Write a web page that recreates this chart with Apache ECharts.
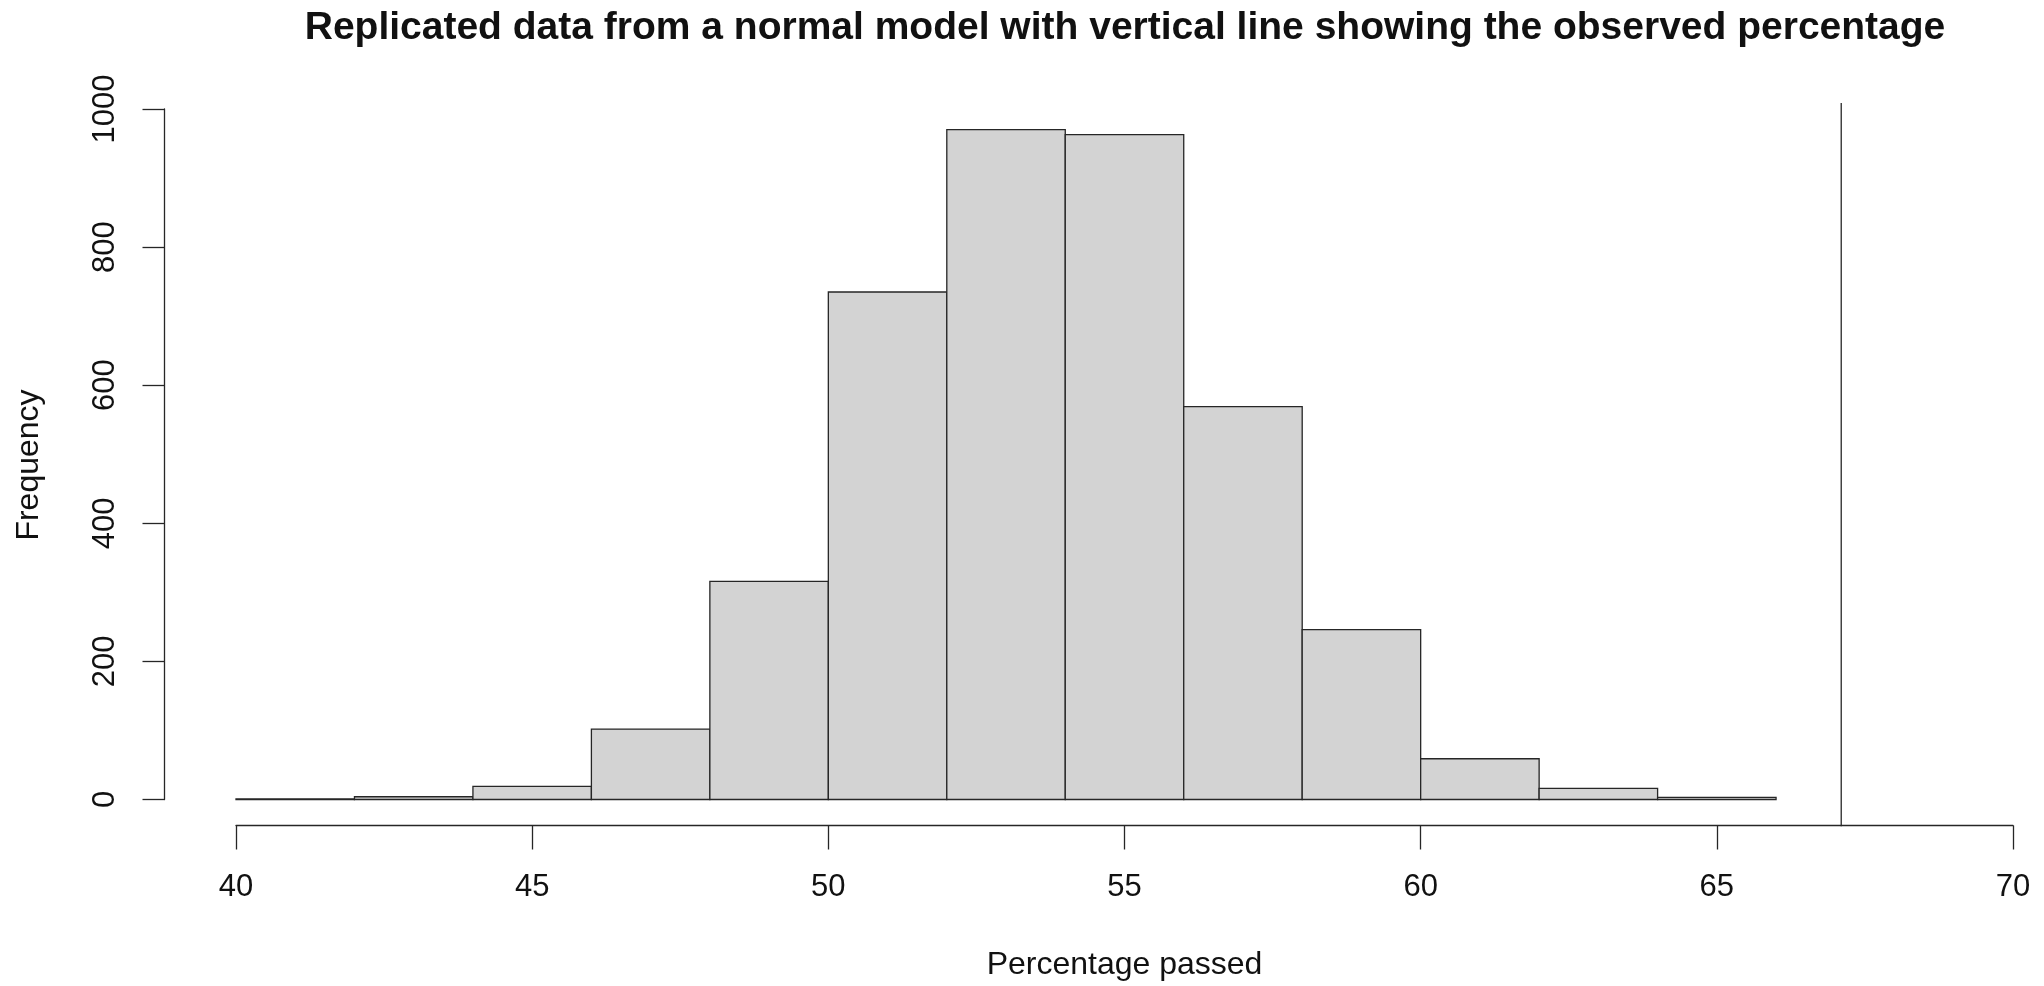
<!DOCTYPE html>
<html>
<head>
<meta charset="utf-8">
<title>Replicated data histogram</title>
<script src="https://cdn.jsdelivr.net/npm/echarts@6/dist/echarts.min.js"></script>
<style>
	html,body{margin:0;padding:0;background:#fff;}
	#chart{width:2044px;height:986px;}
</style>
</head>
<body>
<div id="chart"></div>
<script>
	// histogram bins (percentage passed) and counts
	var binStart = [40, 42, 44, 46, 48, 50, 52, 54, 56, 58, 60, 62, 64];
	var binEnd = [42, 44, 46, 48, 50, 52, 54, 56, 58, 60, 62, 64, 66];
	var counts = [1, 4, 19, 102, 316, 735, 970, 963, 569, 246, 59, 16, 3];
	// observed percentage, drawn as vertical line over the whole plot height
	var observed = 67.1;
	var observedSpan = [-38.8, 1008.8];
	var xTicks = [40, 45, 50, 55, 60, 65, 70];
	var yTicks = [0, 200, 400, 600, 800, 1000];

	var histData = [];
	for(var i = 0; i < counts.length; i++){
		histData.push([binStart[i], binEnd[i], counts[i]]);
	}

	var font = 'Liberation Sans, Arial, Helvetica, sans-serif';
	var ink = '#262626';
	var chart = echarts.init(document.getElementById('chart'));
	chart.setOption({
		animation: false,
		backgroundColor: '#ffffff',
		graphic: [{
			type: 'text',
			x: 1125,
			y: 28,
			style: {
				text: 'Replicated data from a normal model with vertical line showing the observed percentage',
				font: 'bold 39px ' + font,
				fill: '#111',
				textAlign: 'center',
				textVerticalAlign: 'middle'
			}
		}, {
			// y label centred on the whole plot region, like R does
			type: 'text',
			x: 29,
			y: 465,
			rotation: Math.PI / 2,
			style: {
				text: 'Frequency',
				font: '32px ' + font,
				fill: '#111',
				textAlign: 'center',
				textVerticalAlign: 'middle'
			}
		}],
		grid: {
			left: 236,
			right: 31,
			top: 109,
			bottom: 186.5,
			outerBoundsMode: 'none'
		},
		xAxis: {
			type: 'value',
			min: xTicks[0],
			max: xTicks[xTicks.length - 1],
			interval: 5,
			offset: 26,
			name: 'Percentage passed',
			nameLocation: 'middle',
			nameGap: 124,
			nameTextStyle: {fontSize: 32, fontFamily: font, color: '#111'},
			splitLine: {show: false},
			axisLine: {show: true, onZero: false, lineStyle: {color: ink, width: 1.3}},
			axisTick: {show: true, length: 24, lineStyle: {color: ink, width: 1.3}},
			axisLabel: {fontSize: 31, fontFamily: font, color: '#111', margin: 46}
		},
		yAxis: {
			type: 'value',
			min: yTicks[0],
			max: yTicks[yTicks.length - 1],
			interval: 200,
			offset: 71.5,
			splitLine: {show: false},
			axisLine: {show: true, onZero: false, lineStyle: {color: ink, width: 1.3}},
			axisTick: {show: true, length: 22, lineStyle: {color: ink, width: 1.3}},
			axisLabel: {
				fontSize: 31, fontFamily: font, color: '#111', rotate: 90, margin: 44,
				formatter: function(v){ return String(v); }
			}
		},
		series: [{
			type: 'custom',
			data: histData,
			encode: {x: [0, 1], y: 2},
			renderItem: function(params, api){
				var topLeft = api.coord([api.value(0), api.value(2)]);
				var bottomRight = api.coord([api.value(1), 0]);
				return {
					type: 'rect',
					shape: {
						x: topLeft[0],
						y: topLeft[1],
						width: bottomRight[0] - topLeft[0],
						height: bottomRight[1] - topLeft[1]
					},
					style: {fill: '#d3d3d3', stroke: ink, lineWidth: 1.3}
				};
			}
		}, {
			type: 'line',
			clip: false,
			symbol: 'none',
			data: [[observed, observedSpan[0]], [observed, observedSpan[1]]],
			lineStyle: {color: ink, width: 1.3}
		}]
	});
</script>
</body>
</html>
